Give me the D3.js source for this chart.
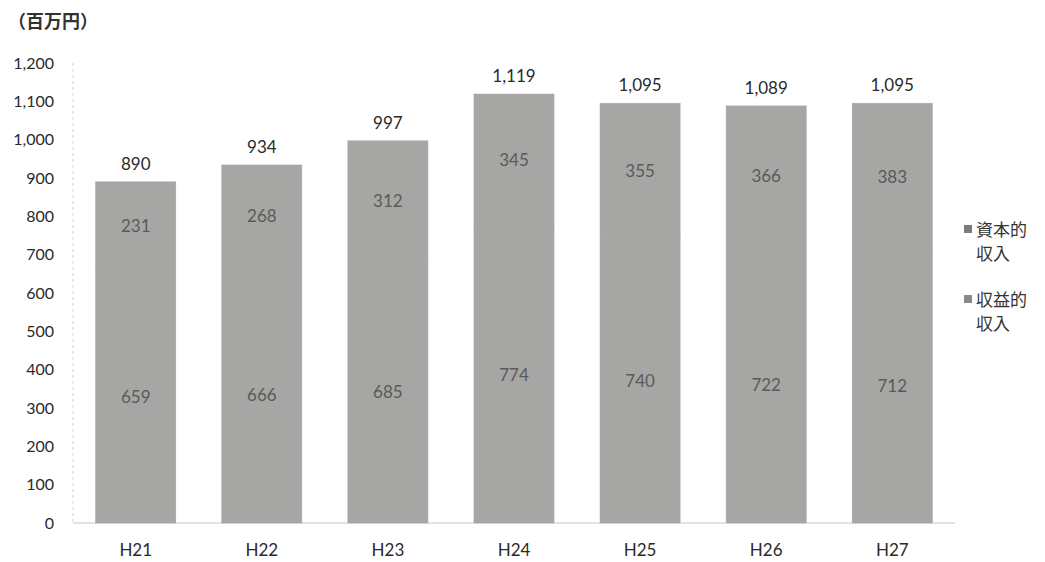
<!DOCTYPE html>
<html>
<head>
<meta charset="utf-8">
<script src="https://cdn.jsdelivr.net/npm/d3@7"></script>
<style>
  body { margin: 0; background: #fff; }
  svg { font-family: "Lato", "Noto Sans CJK JP", sans-serif; }
</style>
</head>
<body>
<svg></svg>
<script>
let years = ["H21", "H22", "H23", "H24", "H25", "H26", "H27"];
let revenueIncome = [659, 666, 685, 774, 740, 722, 712]; // 収益的収入
let capitalIncome = [231, 268, 312, 345, 355, 366, 383]; // 資本的収入
let totals = [890, 934, 997, 1119, 1095, 1089, 1095];
let yTicks = [0, 100, 200, 300, 400, 500, 600, 700, 800, 900, 1000, 1100, 1200];
let seriesNames = ["資本的収入", "収益的収入"];

let width = 1045;
let height = 562;
let plotLeft = 73;
let plotRight = 955;
let plotTop = 63;
let plotBottom = 523;

let svg = d3.select("svg").attr("width", width).attr("height", height);

let xScale = d3.scaleBand().domain(years).range([plotLeft, plotRight]).paddingInner(0.365).paddingOuter(0.18);
let yScale = d3.scaleLinear().domain([0, 1200]).range([plotBottom, plotTop]);

let rows = years.map((y, i) => ({ year: y, revenue: revenueIncome[i], capital: capitalIncome[i], total: totals[i] }));
let stack = d3.stack().keys(["revenue", "capital"])(rows);

// axis lines
svg.append("line")
  .attr("x1", plotLeft).attr("x2", plotLeft)
  .attr("y1", yScale(1200)).attr("y2", plotBottom)
  .attr("stroke", "#d4d4d4").attr("stroke-dasharray", "3,3");
svg.append("line")
  .attr("x1", plotLeft).attr("x2", plotRight)
  .attr("y1", plotBottom).attr("y2", plotBottom)
  .attr("stroke", "#c8c8c8");

// bars
svg.append("g").selectAll("g")
  .data(stack)
  .enter()
  .append("g")
  .selectAll("rect")
  .data((d) => d)
  .enter()
  .append("rect")
  .attr("x", (d) => xScale(d.data.year))
  .attr("width", xScale.bandwidth())
  .attr("y", (d) => yScale(d[1]))
  .attr("height", (d) => yScale(d[0]) - yScale(d[1]))
  .attr("fill", "#a6a6a4")
  .attr("stroke", "#a6a6a4")
  .attr("stroke-width", 0.6);

// segment labels
svg.append("g").selectAll("g")
  .data(stack)
  .enter()
  .append("g")
  .selectAll("text")
  .data((d) => d)
  .enter()
  .append("text")
  .attr("x", (d) => xScale(d.data.year) + xScale.bandwidth() / 2)
  .attr("y", (d) => yScale((d[0] + d[1]) / 2))
  .attr("dy", "0.35em")
  .attr("text-anchor", "middle")
  .attr("font-size", 17)
  .attr("fill", "#5a5a5a")
  .text((d) => d[1] - d[0]);

// totals
svg.append("g").selectAll("text")
  .data(rows)
  .enter()
  .append("text")
  .attr("x", (d) => xScale(d.year) + xScale.bandwidth() / 2)
  .attr("y", (d) => yScale(d.total) - 12)
  .attr("text-anchor", "middle")
  .attr("font-size", 17)
  .attr("fill", "#2a2a2a")
  .text((d) => d3.format(",")(d.total));

// y axis
let yAxis = d3.axisLeft(yScale).tickValues(yTicks).tickSize(0).tickPadding(19).tickFormat(d3.format(","));
let yg = svg.append("g").attr("transform", "translate(" + plotLeft + ",0)").call(yAxis);
yg.select(".domain").remove();
yg.selectAll("text").attr("font-size", 16).attr("fill", "#2a2a2a").attr("font-family", "Lato, sans-serif");

// x axis
let xAxis = d3.axisBottom(xScale).tickSize(0).tickPadding(21);
let xg = svg.append("g").attr("transform", "translate(0," + plotBottom + ")").call(xAxis);
xg.select(".domain").remove();
xg.selectAll("text").attr("font-size", 17).attr("fill", "#2a2a2a").attr("font-family", "Lato, sans-serif");

// unit
svg.append("text")
  .attr("x", 8).attr("y", 28)
  .attr("font-size", 18).attr("font-weight", "bold").attr("fill", "#333")
  .attr("font-family", "Noto Sans CJK JP")
  .text("（百万円）");

// legend
let legend = svg.append("g").selectAll("g")
  .data(seriesNames)
  .enter()
  .append("g")
  .attr("transform", (d, i) => "translate(964," + (222 + i * 70) + ")");
legend.append("rect")
  .attr("x", 0).attr("y", 3).attr("width", 8).attr("height", 8)
  .attr("fill", (d, i) => i === 0 ? "#7c7c7c" : "#8a8a8a");
legend.append("text")
  .attr("x", 12).attr("y", 14)
  .attr("font-size", 17).attr("fill", "#333").attr("font-family", "Noto Sans CJK JP")
  .text((d) => d.slice(0, 3));
legend.append("text")
  .attr("x", 12).attr("y", 38)
  .attr("font-size", 17).attr("fill", "#333").attr("font-family", "Noto Sans CJK JP")
  .text((d) => d.slice(3));
</script>
</body>
</html>
